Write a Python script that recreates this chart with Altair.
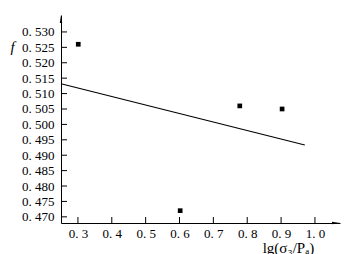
import altair as alt
import pandas as pd

# data
x_pts = [0.301, 0.602, 0.778, 0.903]
y_pts = [0.526, 0.472, 0.506, 0.505]
fit_x = [0.25, 0.97]
fit_y = [0.5132, 0.4933]
x_ticks = [0.3, 0.4, 0.5, 0.6, 0.7, 0.8, 0.9, 1.0]
y_ticks = [0.470, 0.475, 0.480, 0.485, 0.490, 0.495, 0.500, 0.505,
           0.510, 0.515, 0.520, 0.525, 0.530]
x_dom = [0.25, 1.074]
y_dom = [0.468, 0.5355]

FONT = "Liberation Serif"
W, H = 279, 208

pts = pd.DataFrame({"x": x_pts, "y": y_pts})
fit = pd.DataFrame({"x": fit_x, "y": fit_y})
xt = pd.DataFrame({"x": x_ticks})
yt = pd.DataFrame({"y": y_ticks})

xs = alt.Scale(domain=x_dom, nice=False, zero=False)
ys = alt.Scale(domain=y_dom, nice=False, zero=False)

xaxis = alt.Axis(values=x_ticks, ticks=False, grid=False, domainColor="#000",
                 labelExpr="replace(format(datum.value,'.1f'),'.','. ')",
                 labelFont=FONT, labelFontSize=13, labelColor="#000",
                 labelOverlap=False, labelPadding=4, labelFlush=False,
                 title="lg(σ₃/Pₐ)", titleFont=FONT,
                 titleFontSize=15, titleFontWeight="normal", titleColor="#000",
                 titleX=227, titleY=24, titleAlign="center", titleBaseline="middle")
yaxis = alt.Axis(values=y_ticks, ticks=False, grid=False, domainColor="#000",
                 labelExpr="replace(format(datum.value,'.3f'),'.','. ')",
                 labelFont=FONT, labelFontSize=13, labelColor="#000",
                 labelOverlap=False, labelPadding=7, labelFlush=False,
                 title="f", titleFont=FONT, titleFontSize=15,
                 titleFontStyle="italic", titleFontWeight="normal", titleColor="#000",
                 titleAngle=0, titleX=-49, titleY=31, titleAlign="center",
                 titleBaseline="middle")

X = alt.X("x:Q", scale=xs, axis=xaxis)
Y = alt.Y("y:Q", scale=ys, axis=yaxis)

line = alt.Chart(fit).mark_line(color="black", strokeWidth=1.2).encode(x=X, y=Y)

points = alt.Chart(pts).mark_square(color="black", size=22, opacity=1).encode(x=X, y=Y)

yticks = alt.Chart(yt).mark_rule(color="#000", strokeWidth=1).encode(
    y=Y, x=alt.value(0), x2=alt.value(6))
xticks = alt.Chart(xt).mark_rule(color="#000", strokeWidth=1).encode(
    x=X, y=alt.value(H), y2=alt.value(H - 6))

arrow_up = alt.Chart(pd.DataFrame({"x": [x_dom[0]], "y": [y_dom[1]]})).mark_point(
    shape="M0,-1L0.3,1L-0.3,1Z", filled=True, color="black", size=64, opacity=1,
    yOffset=4).encode(x=X, y=Y)
arrow_right = alt.Chart(pd.DataFrame({"x": [x_dom[1]], "y": [y_dom[0]]})).mark_point(
    shape="M1,0L-1,0.3L-1,-0.3Z", filled=True, color="black", size=64, opacity=1,
    xOffset=-4).encode(x=X, y=Y)

chart = alt.layer(line, points, yticks, xticks, arrow_up, arrow_right).properties(
    width=W, height=H,
    autosize=alt.AutoSizeParams(type="none"),
    padding={"left": 61, "top": 15, "right": 8, "bottom": 31},
    background="white",
).configure_view(stroke=None)

chart.save("out.html", embed_options={"renderer": "svg", "actions": False})
